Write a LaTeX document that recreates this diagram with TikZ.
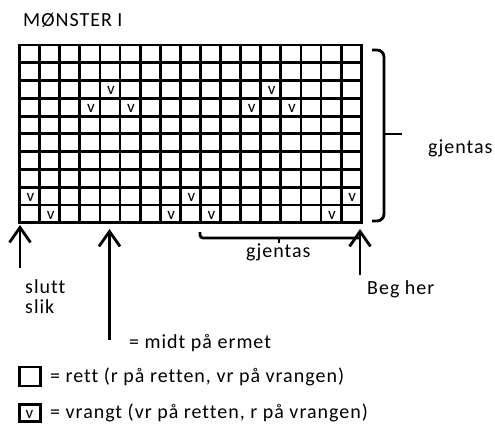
\documentclass[tikz,border=0pt]{standalone}
\usepackage{fontspec}
\setmainfont{Carlito}[LetterSpace=5, Ligatures=NoCommon]
\usetikzlibrary{arrows.meta}

\begin{document}
\begin{tikzpicture}[x=1pt, y=-1pt,
        tekst/.style={anchor=base west, inner sep=0pt, font=\fontsize{20}{18}\selectfont},
        merke/.style={anchor=base, inner sep=0pt, font=\fontsize{17}{18}\selectfont},
        strek/.style={line width=2.8pt},
        pil/.style={line width=2.8pt, -{Straight Barb[length=15pt, width=21pt]}}]
    \useasboundingbox (0,0) rectangle (495,423);

    \node[tekst] at (23, 26.5) (tittel) {MØNSTER I};

    % rutenett 17 x 10
    \foreach \i in {0,...,17}
        \draw[strek, line cap=rect] (19.5+\i*20.1, 45) -- (19.5+\i*20.1, 222.75);
    \foreach \j in {0,...,10}
        \draw[strek, line cap=rect] (19.5, 45+\j*17.775) -- (361.2, 45+\j*17.775);

    \foreach \c/\r in {5/3, 13/3, 4/4, 6/4, 12/4, 14/4, 1/9, 9/9, 17/9, 2/10, 8/10, 10/10, 16/10}
        \node[merke] at (20.5+\c*20.1-10.05, 45+\r*17.775-3.5) (v-\c-\r) {v};

    % klamme til hoyre
    \draw[strek, rounded corners=7pt] (372, 50) -- (384, 50) -- (384, 221) -- (372, 221);
    \coordinate (klammemidt) at (384, 134);
    \coordinate (klammespiss) at (402, 134);
    \draw[strek] (klammemidt) -- (klammespiss);
    \node[tekst] at (428, 153) (gjentas1) {gjentas};

    % klamme under
    \draw[strek, rounded corners=3pt] (200, 232) -- (200, 238) -- (360, 238);
    \coordinate (bunnmidt) at (279, 238);
    \coordinate (bunnspiss) at (279, 243);
    \draw[strek] (bunnmidt) -- (bunnspiss);
    \node[tekst] at (246, 257) (gjentas2) {gjentas};

    % piler
    \coordinate (sluttfot) at (20, 268);
    \coordinate (sluttspiss) at (20, 225);
    \coordinate (midtfot) at (109.5, 340);
    \coordinate (midtspiss) at (109.5, 229);
    \coordinate (begfot) at (360, 275);
    \coordinate (begspiss) at (360, 229);
    \draw[pil] (sluttfot) -- (sluttspiss);
    \draw[pil] (midtfot) -- (midtspiss);
    \draw[pil] (begfot) -- (begspiss);

    \node[tekst] at (25, 293) (slutt) {slutt};
    \node[tekst] at (25, 313) (slik) {slik};
    \node[tekst] at (367, 294) (beg) {Beg her};
    \node[tekst] at (129, 348) (midt) {= midt på ermet};

    % forklaring
    \draw[strek] (19.5, 367) rectangle (40.5, 386) coordinate (rettboks);
    \node[tekst] at (50, 382.5) (rett) {= rett (r på retten, vr på vrangen)};
    \draw[strek] (19.5, 404.5) rectangle (40.5, 421.5) coordinate (vrangboks);
    \node[merke] at (29.5, 418.5) (v-boks) {v};
    \node[tekst] at (50, 418) (vrangt) {= vrangt (vr på retten, r på vrangen)};
\end{tikzpicture}
\end{document}
